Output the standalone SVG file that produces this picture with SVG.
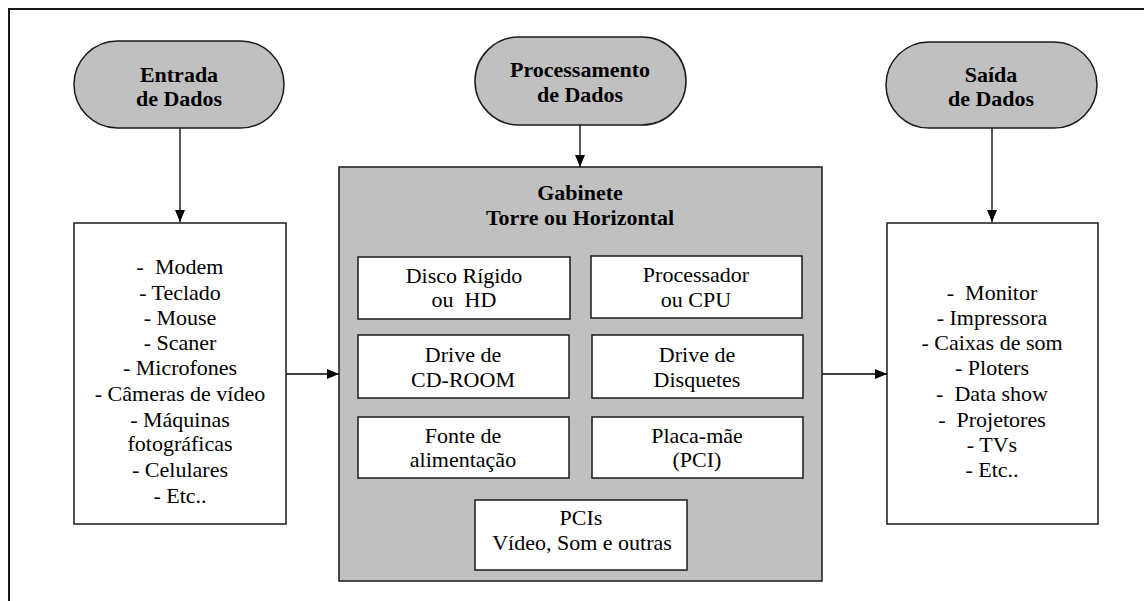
<svg xmlns="http://www.w3.org/2000/svg" width="1144" height="601" viewBox="0 0 1144 601" font-family="Liberation Serif, DejaVu Serif, serif">
  <style>
    .frame { fill: none; stroke: #1a1a1a; stroke-width: 2; }
    .pill { fill: #c0c0c0; stroke: #1a1a1a; stroke-width: 1.5; }
    .cabinet { fill: #c0c0c0; stroke: #1a1a1a; stroke-width: 1.5; }
    .box { fill: #ffffff; stroke: #1a1a1a; stroke-width: 1.5; }
    .link { fill: none; stroke: #000000; stroke-width: 1.3; marker-end: url(#arrow); }
    text { font-size: 22px; fill: #000000; text-anchor: middle; }
    .title { font-weight: bold; }
  </style>
  <defs>
    <marker id="arrow" viewBox="0 0 12 10" refX="12" refY="5" markerWidth="12" markerHeight="10" markerUnits="userSpaceOnUse" orient="auto">
      <path d="M0,0 L12,5 L0,10 Z" fill="#000000"/>
    </marker>
  </defs>

  <rect width="1144" height="601" fill="#ffffff"/>

  <!-- open frame: top and left edges only -->
  <path class="frame" d="M9,601 L9,9 L1144,9"/>

  <!-- connectors -->
  <g id="connectors">
    <line class="link" x1="180" y1="128" x2="180" y2="222"/>
    <line class="link" x1="580" y1="125" x2="580" y2="167"/>
    <line class="link" x1="992" y1="128" x2="992" y2="222"/>
    <line class="link" x1="286" y1="374" x2="339" y2="374"/>
    <line class="link" x1="822" y1="374" x2="887" y2="374"/>
  </g>

  <!-- input terminator -->
  <g id="entrada">
    <rect class="pill" x="74" y="41" width="210" height="87" rx="43.5" ry="43.5"/>
    <text class="title" x="179" y="82">Entrada</text>
    <text class="title" x="179" y="106">de Dados</text>
  </g>

  <!-- processing terminator -->
  <g id="processamento">
    <rect class="pill" x="475" y="37" width="211" height="88" rx="44" ry="44"/>
    <text class="title" x="580" y="77">Processamento</text>
    <text class="title" x="580" y="102">de Dados</text>
  </g>

  <!-- output terminator -->
  <g id="saida">
    <rect class="pill" x="886" y="42" width="211" height="86" rx="43" ry="43"/>
    <text class="title" x="991" y="82">Saída</text>
    <text class="title" x="991" y="106">de Dados</text>
  </g>

  <!-- input devices list -->
  <g id="entrada-lista">
    <rect class="box" x="74" y="223" width="212" height="301"/>
    <text x="180" y="274" xml:space="preserve">-  Modem</text>
    <text x="180" y="300">- Teclado</text>
    <text x="180" y="325">- Mouse</text>
    <text x="180" y="350">- Scaner</text>
    <text x="180" y="375">- Microfones</text>
    <text x="180" y="401">- Câmeras de vídeo</text>
    <text x="180" y="427">- Máquinas</text>
    <text x="180" y="451">fotográficas</text>
    <text x="180" y="477">- Celulares</text>
    <text x="180" y="503">- Etc..</text>
  </g>

  <!-- cabinet -->
  <g id="gabinete">
    <rect class="cabinet" x="339" y="167" width="483" height="414"/>
    <text class="title" x="580" y="200">Gabinete</text>
    <text class="title" x="580" y="225">Torre ou Horizontal</text>
  </g>

  <g id="disco">
    <rect class="box" x="358" y="257" width="212" height="62"/>
    <text x="464" y="283">Disco Rígido</text>
    <text x="464" y="307" xml:space="preserve">ou  HD</text>
  </g>

  <g id="processador">
    <rect class="box" x="591" y="256" width="211" height="62"/>
    <text x="696" y="282">Processador</text>
    <text x="696" y="307">ou CPU</text>
  </g>

  <g id="drive-cd">
    <rect class="box" x="358" y="335" width="211" height="63"/>
    <text x="463" y="362">Drive de</text>
    <text x="463" y="387">CD-ROOM</text>
  </g>

  <g id="drive-disquetes">
    <rect class="box" x="592" y="335" width="211" height="63"/>
    <text x="697" y="362">Drive de</text>
    <text x="697" y="387">Disquetes</text>
  </g>

  <g id="fonte">
    <rect class="box" x="358" y="417" width="211" height="61"/>
    <text x="463" y="443">Fonte de</text>
    <text x="463" y="467">alimentação</text>
  </g>

  <g id="placa-mae">
    <rect class="box" x="592" y="417" width="211" height="61"/>
    <text x="697" y="443">Placa-mãe</text>
    <text x="697" y="467">(PCI)</text>
  </g>

  <g id="pcis">
    <rect class="box" x="475" y="500" width="212" height="70"/>
    <text x="581" y="525">PCIs</text>
    <text x="582" y="550">Vídeo, Som e outras</text>
  </g>

  <!-- output devices list -->
  <g id="saida-lista">
    <rect class="box" x="887" y="223" width="211" height="301"/>
    <text x="992" y="300" xml:space="preserve">-  Monitor</text>
    <text x="992" y="325">- Impressora</text>
    <text x="992" y="350">- Caixas de som</text>
    <text x="992" y="375">- Ploters</text>
    <text x="992" y="401" xml:space="preserve">-  Data show</text>
    <text x="992" y="427" xml:space="preserve">-  Projetores</text>
    <text x="992" y="452">- TVs</text>
    <text x="992" y="477">- Etc..</text>
  </g>
</svg>
